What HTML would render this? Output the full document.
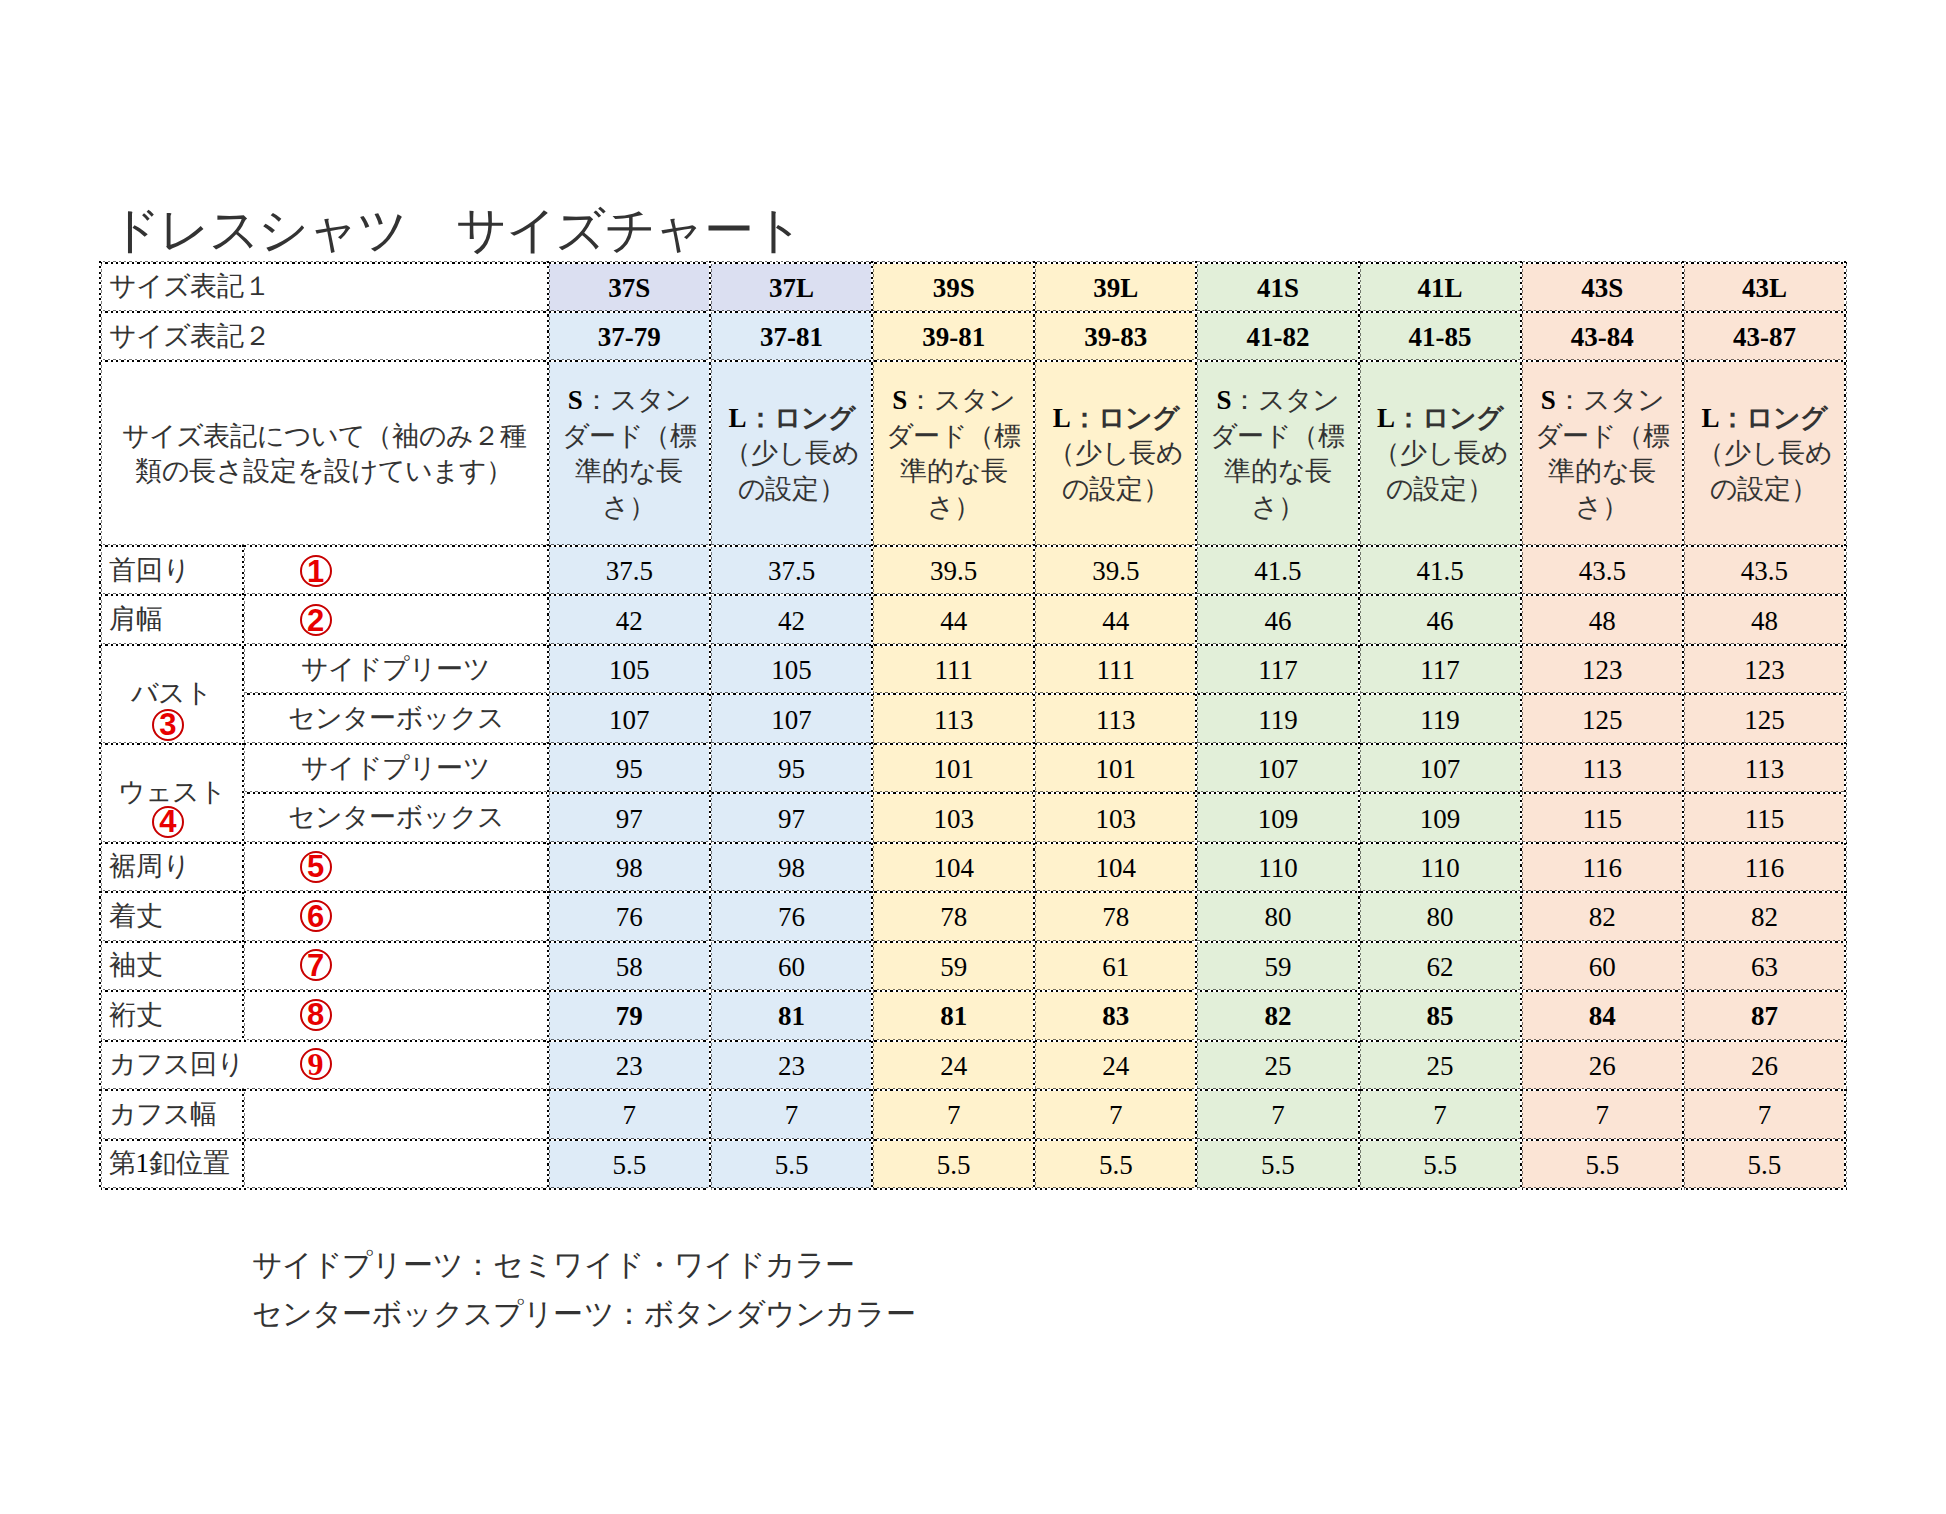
<!DOCTYPE html>
<html lang="ja"><head><meta charset="utf-8"><title>ドレスシャツ サイズチャート</title>
<style>
html,body{margin:0;padding:0;background:#fff;}
body{width:1946px;height:1514px;position:relative;overflow:hidden;font-family:"Liberation Serif",serif;color:#000;font-size:27px;}
.a{position:absolute;box-sizing:border-box;}
.c{display:flex;align-items:center;white-space:nowrap;line-height:1;}
.ml{text-align:center;line-height:35.5px;position:relative;top:1px;}
b{font-weight:bold;}
i{font-style:normal;display:inline-block;width:1em;text-align:center;color:#333;}
.h{background:repeating-linear-gradient(90deg,#000 0 2.3px,#fff 2.3px 5.34px);}
.hg{background:repeating-linear-gradient(90deg,transparent 0 2.67px,rgba(0,0,0,.55) 2.67px 5.0px,transparent 5.0px 5.34px);}
.v{background:repeating-linear-gradient(180deg,#000 0 2.1px,#fff 2.1px 5.34px);}
.vg{background:repeating-linear-gradient(180deg,transparent 0 2.67px,rgba(0,0,0,.5) 2.67px 5.34px);}
.n{position:relative;top:1.5px;}
.circ{border:2.3px solid #c80000;border-radius:50%;color:#e80000;font-family:"Liberation Sans",sans-serif;font-weight:bold;font-size:31px;display:flex;align-items:center;justify-content:center;line-height:1;}
.title{position:absolute;left:109.5px;top:206px;font-size:49.5px;line-height:1;white-space:nowrap;}
.note{position:absolute;left:251.5px;font-size:30.2px;line-height:1;white-space:nowrap;}
</style></head><body>
<div class="title"><i>ド</i><i>レ</i><i>ス</i><i>シ</i><i>ャ</i><i>ツ</i><i>&#12288;</i><i>サ</i><i>イ</i><i>ズ</i><i>チ</i><i>ャ</i><i>ー</i><i>ト</i></div>
<div class="a" style="left:548.30px;top:262.00px;width:162.15px;height:49.40px;background:#dbdff1"></div>
<div class="a" style="left:548.30px;top:311.40px;width:162.15px;height:877.10px;background:#deebf7"></div>
<div class="a" style="left:710.45px;top:262.00px;width:162.15px;height:49.40px;background:#dbdff1"></div>
<div class="a" style="left:710.45px;top:311.40px;width:162.15px;height:877.10px;background:#deebf7"></div>
<div class="a" style="left:872.60px;top:262.00px;width:162.15px;height:49.40px;background:#fff2cc"></div>
<div class="a" style="left:872.60px;top:311.40px;width:162.15px;height:877.10px;background:#fff2cc"></div>
<div class="a" style="left:1034.75px;top:262.00px;width:162.15px;height:49.40px;background:#fff2cc"></div>
<div class="a" style="left:1034.75px;top:311.40px;width:162.15px;height:877.10px;background:#fff2cc"></div>
<div class="a" style="left:1196.90px;top:262.00px;width:162.15px;height:49.40px;background:#e2efd9"></div>
<div class="a" style="left:1196.90px;top:311.40px;width:162.15px;height:877.10px;background:#e2efd9"></div>
<div class="a" style="left:1359.05px;top:262.00px;width:162.15px;height:49.40px;background:#e2efd9"></div>
<div class="a" style="left:1359.05px;top:311.40px;width:162.15px;height:877.10px;background:#e2efd9"></div>
<div class="a" style="left:1521.20px;top:262.00px;width:162.15px;height:49.40px;background:#fbe4d5"></div>
<div class="a" style="left:1521.20px;top:311.40px;width:162.15px;height:877.10px;background:#fbe4d5"></div>
<div class="a" style="left:1683.35px;top:262.00px;width:162.15px;height:49.40px;background:#fbe4d5"></div>
<div class="a" style="left:1683.35px;top:311.40px;width:162.15px;height:877.10px;background:#fbe4d5"></div>
<div class="a h" style="left:99.50px;top:262.00px;width:1747.00px;height:2.00px;"></div>
<div class="a hg" style="left:99.50px;top:261.00px;width:1747.00px;height:1.00px;"></div>
<div class="a h" style="left:99.50px;top:311.00px;width:1747.00px;height:2.00px;"></div>
<div class="a hg" style="left:99.50px;top:310.00px;width:1747.00px;height:1.00px;"></div>
<div class="a h" style="left:99.50px;top:360.00px;width:1747.00px;height:2.00px;"></div>
<div class="a hg" style="left:99.50px;top:359.00px;width:1747.00px;height:1.00px;"></div>
<div class="a h" style="left:99.50px;top:545.00px;width:1747.00px;height:2.00px;"></div>
<div class="a hg" style="left:99.50px;top:544.00px;width:1747.00px;height:1.00px;"></div>
<div class="a h" style="left:99.50px;top:594.00px;width:1747.00px;height:2.00px;"></div>
<div class="a hg" style="left:99.50px;top:593.00px;width:1747.00px;height:1.00px;"></div>
<div class="a h" style="left:99.50px;top:644.00px;width:1747.00px;height:2.00px;"></div>
<div class="a hg" style="left:99.50px;top:643.00px;width:1747.00px;height:1.00px;"></div>
<div class="a h" style="left:242.30px;top:693.00px;width:1604.20px;height:2.00px;"></div>
<div class="a hg" style="left:242.30px;top:692.00px;width:1604.20px;height:1.00px;"></div>
<div class="a h" style="left:99.50px;top:743.00px;width:1747.00px;height:2.00px;"></div>
<div class="a hg" style="left:99.50px;top:742.00px;width:1747.00px;height:1.00px;"></div>
<div class="a h" style="left:242.30px;top:792.00px;width:1604.20px;height:2.00px;"></div>
<div class="a hg" style="left:242.30px;top:791.00px;width:1604.20px;height:1.00px;"></div>
<div class="a h" style="left:99.50px;top:842.00px;width:1747.00px;height:2.00px;"></div>
<div class="a hg" style="left:99.50px;top:841.00px;width:1747.00px;height:1.00px;"></div>
<div class="a h" style="left:99.50px;top:891.00px;width:1747.00px;height:2.00px;"></div>
<div class="a hg" style="left:99.50px;top:890.00px;width:1747.00px;height:1.00px;"></div>
<div class="a h" style="left:99.50px;top:941.00px;width:1747.00px;height:2.00px;"></div>
<div class="a hg" style="left:99.50px;top:940.00px;width:1747.00px;height:1.00px;"></div>
<div class="a h" style="left:99.50px;top:990.00px;width:1747.00px;height:2.00px;"></div>
<div class="a hg" style="left:99.50px;top:989.00px;width:1747.00px;height:1.00px;"></div>
<div class="a h" style="left:99.50px;top:1040.00px;width:1747.00px;height:2.00px;"></div>
<div class="a hg" style="left:99.50px;top:1039.00px;width:1747.00px;height:1.00px;"></div>
<div class="a h" style="left:99.50px;top:1089.00px;width:1747.00px;height:2.00px;"></div>
<div class="a hg" style="left:99.50px;top:1088.00px;width:1747.00px;height:1.00px;"></div>
<div class="a h" style="left:99.50px;top:1139.00px;width:1747.00px;height:2.00px;"></div>
<div class="a hg" style="left:99.50px;top:1138.00px;width:1747.00px;height:1.00px;"></div>
<div class="a h" style="left:99.50px;top:1188.00px;width:1747.00px;height:2.00px;"></div>
<div class="a hg" style="left:99.50px;top:1187.00px;width:1747.00px;height:1.00px;"></div>
<div class="a v" style="left:99.00px;top:261.00px;width:2.00px;height:928.50px;"></div>
<div class="a vg" style="left:101.00px;top:261.00px;width:1.00px;height:928.50px;"></div>
<div class="a v" style="left:242.00px;top:544.50px;width:2.00px;height:496.62px;"></div>
<div class="a vg" style="left:244.00px;top:544.50px;width:1.00px;height:496.62px;"></div>
<div class="a v" style="left:242.00px;top:1088.58px;width:2.00px;height:100.92px;"></div>
<div class="a vg" style="left:244.00px;top:1088.58px;width:1.00px;height:100.92px;"></div>
<div class="a v" style="left:547.00px;top:261.00px;width:2.00px;height:928.50px;"></div>
<div class="a vg" style="left:549.00px;top:261.00px;width:1.00px;height:928.50px;"></div>
<div class="a v" style="left:709.00px;top:261.00px;width:2.00px;height:928.50px;"></div>
<div class="a vg" style="left:711.00px;top:261.00px;width:1.00px;height:928.50px;"></div>
<div class="a v" style="left:871.00px;top:261.00px;width:2.00px;height:928.50px;"></div>
<div class="a vg" style="left:873.00px;top:261.00px;width:1.00px;height:928.50px;"></div>
<div class="a v" style="left:1033.00px;top:261.00px;width:2.00px;height:928.50px;"></div>
<div class="a vg" style="left:1035.00px;top:261.00px;width:1.00px;height:928.50px;"></div>
<div class="a v" style="left:1195.00px;top:261.00px;width:2.00px;height:928.50px;"></div>
<div class="a vg" style="left:1197.00px;top:261.00px;width:1.00px;height:928.50px;"></div>
<div class="a v" style="left:1358.00px;top:261.00px;width:2.00px;height:928.50px;"></div>
<div class="a vg" style="left:1360.00px;top:261.00px;width:1.00px;height:928.50px;"></div>
<div class="a v" style="left:1520.00px;top:261.00px;width:2.00px;height:928.50px;"></div>
<div class="a vg" style="left:1522.00px;top:261.00px;width:1.00px;height:928.50px;"></div>
<div class="a v" style="left:1682.00px;top:261.00px;width:2.00px;height:928.50px;"></div>
<div class="a vg" style="left:1684.00px;top:261.00px;width:1.00px;height:928.50px;"></div>
<div class="a v" style="left:1844.00px;top:261.00px;width:2.00px;height:928.50px;"></div>
<div class="a vg" style="left:1846.00px;top:261.00px;width:1.00px;height:928.50px;"></div>
<div class="a c" style="left:108.50px;top:262.00px;width:439.80px;height:49.40px;justify-content:flex-start;"><i>サ</i><i>イ</i><i>ズ</i><i>表</i><i>記</i><i>１</i></div>
<div class="a c" style="left:108.50px;top:311.40px;width:439.80px;height:49.40px;justify-content:flex-start;"><i>サ</i><i>イ</i><i>ズ</i><i>表</i><i>記</i><i>２</i></div>
<div class="a c" style="left:100.50px;top:360.80px;width:447.80px;height:184.70px;justify-content:center;"><div class="ml"><i>サ</i><i>イ</i><i>ズ</i><i>表</i><i>記</i><i>に</i><i>つ</i><i>い</i><i>て</i><i>（</i><i>袖</i><i>の</i><i>み</i><i>２</i><i>種</i><br><i>類</i><i>の</i><i>長</i><i>さ</i><i>設</i><i>定</i><i>を</i><i>設</i><i>け</i><i>て</i><i>い</i><i>ま</i><i>す</i><i>）</i></div></div>
<div class="a c" style="left:548.30px;top:262.00px;width:162.15px;height:49.40px;justify-content:center;"><b class="n">37S</b></div>
<div class="a c" style="left:548.30px;top:311.40px;width:162.15px;height:49.40px;justify-content:center;"><b class="n">37-79</b></div>
<div class="a c" style="left:548.30px;top:360.80px;width:162.15px;height:184.70px;justify-content:center;"><div class="ml"><b>S</b><i>：</i><i>ス</i><i>タ</i><i>ン</i><br><i>ダ</i><i>ー</i><i>ド</i><i>（</i><i>標</i><br><i>準</i><i>的</i><i>な</i><i>長</i><br><i>さ</i><i>）</i></div></div>
<div class="a c" style="left:710.45px;top:262.00px;width:162.15px;height:49.40px;justify-content:center;"><b class="n">37L</b></div>
<div class="a c" style="left:710.45px;top:311.40px;width:162.15px;height:49.40px;justify-content:center;"><b class="n">37-81</b></div>
<div class="a c" style="left:710.45px;top:360.80px;width:162.15px;height:184.70px;justify-content:center;"><div class="ml"><b>L<i>：</i><i>ロ</i><i>ン</i><i>グ</i></b><br><i>（</i><i>少</i><i>し</i><i>長</i><i>め</i><br><i>の</i><i>設</i><i>定</i><i>）</i></div></div>
<div class="a c" style="left:872.60px;top:262.00px;width:162.15px;height:49.40px;justify-content:center;"><b class="n">39S</b></div>
<div class="a c" style="left:872.60px;top:311.40px;width:162.15px;height:49.40px;justify-content:center;"><b class="n">39-81</b></div>
<div class="a c" style="left:872.60px;top:360.80px;width:162.15px;height:184.70px;justify-content:center;"><div class="ml"><b>S</b><i>：</i><i>ス</i><i>タ</i><i>ン</i><br><i>ダ</i><i>ー</i><i>ド</i><i>（</i><i>標</i><br><i>準</i><i>的</i><i>な</i><i>長</i><br><i>さ</i><i>）</i></div></div>
<div class="a c" style="left:1034.75px;top:262.00px;width:162.15px;height:49.40px;justify-content:center;"><b class="n">39L</b></div>
<div class="a c" style="left:1034.75px;top:311.40px;width:162.15px;height:49.40px;justify-content:center;"><b class="n">39-83</b></div>
<div class="a c" style="left:1034.75px;top:360.80px;width:162.15px;height:184.70px;justify-content:center;"><div class="ml"><b>L<i>：</i><i>ロ</i><i>ン</i><i>グ</i></b><br><i>（</i><i>少</i><i>し</i><i>長</i><i>め</i><br><i>の</i><i>設</i><i>定</i><i>）</i></div></div>
<div class="a c" style="left:1196.90px;top:262.00px;width:162.15px;height:49.40px;justify-content:center;"><b class="n">41S</b></div>
<div class="a c" style="left:1196.90px;top:311.40px;width:162.15px;height:49.40px;justify-content:center;"><b class="n">41-82</b></div>
<div class="a c" style="left:1196.90px;top:360.80px;width:162.15px;height:184.70px;justify-content:center;"><div class="ml"><b>S</b><i>：</i><i>ス</i><i>タ</i><i>ン</i><br><i>ダ</i><i>ー</i><i>ド</i><i>（</i><i>標</i><br><i>準</i><i>的</i><i>な</i><i>長</i><br><i>さ</i><i>）</i></div></div>
<div class="a c" style="left:1359.05px;top:262.00px;width:162.15px;height:49.40px;justify-content:center;"><b class="n">41L</b></div>
<div class="a c" style="left:1359.05px;top:311.40px;width:162.15px;height:49.40px;justify-content:center;"><b class="n">41-85</b></div>
<div class="a c" style="left:1359.05px;top:360.80px;width:162.15px;height:184.70px;justify-content:center;"><div class="ml"><b>L<i>：</i><i>ロ</i><i>ン</i><i>グ</i></b><br><i>（</i><i>少</i><i>し</i><i>長</i><i>め</i><br><i>の</i><i>設</i><i>定</i><i>）</i></div></div>
<div class="a c" style="left:1521.20px;top:262.00px;width:162.15px;height:49.40px;justify-content:center;"><b class="n">43S</b></div>
<div class="a c" style="left:1521.20px;top:311.40px;width:162.15px;height:49.40px;justify-content:center;"><b class="n">43-84</b></div>
<div class="a c" style="left:1521.20px;top:360.80px;width:162.15px;height:184.70px;justify-content:center;"><div class="ml"><b>S</b><i>：</i><i>ス</i><i>タ</i><i>ン</i><br><i>ダ</i><i>ー</i><i>ド</i><i>（</i><i>標</i><br><i>準</i><i>的</i><i>な</i><i>長</i><br><i>さ</i><i>）</i></div></div>
<div class="a c" style="left:1683.35px;top:262.00px;width:162.15px;height:49.40px;justify-content:center;"><b class="n">43L</b></div>
<div class="a c" style="left:1683.35px;top:311.40px;width:162.15px;height:49.40px;justify-content:center;"><b class="n">43-87</b></div>
<div class="a c" style="left:1683.35px;top:360.80px;width:162.15px;height:184.70px;justify-content:center;"><div class="ml"><b>L<i>：</i><i>ロ</i><i>ン</i><i>グ</i></b><br><i>（</i><i>少</i><i>し</i><i>長</i><i>め</i><br><i>の</i><i>設</i><i>定</i><i>）</i></div></div>
<div class="a c" style="left:108.50px;top:545.50px;width:334.80px;height:49.46px;justify-content:flex-start;"><i>首</i><i>回</i><i>り</i></div>
<div class="a circ" style="left:299.60px;top:555.00px;width:32.00px;height:32.00px;">1</div>
<div class="a c" style="left:108.50px;top:594.96px;width:334.80px;height:49.46px;justify-content:flex-start;"><i>肩</i><i>幅</i></div>
<div class="a circ" style="left:299.60px;top:604.30px;width:32.00px;height:32.00px;">2</div>
<div class="a c" style="left:108.50px;top:842.27px;width:334.80px;height:49.46px;justify-content:flex-start;"><i>裾</i><i>周</i><i>り</i></div>
<div class="a circ" style="left:299.60px;top:850.80px;width:32.00px;height:32.00px;">5</div>
<div class="a c" style="left:108.50px;top:891.73px;width:334.80px;height:49.46px;justify-content:flex-start;"><i>着</i><i>丈</i></div>
<div class="a circ" style="left:299.60px;top:900.10px;width:32.00px;height:32.00px;">6</div>
<div class="a c" style="left:108.50px;top:941.19px;width:334.80px;height:49.46px;justify-content:flex-start;"><i>袖</i><i>丈</i></div>
<div class="a circ" style="left:299.60px;top:949.40px;width:32.00px;height:32.00px;">7</div>
<div class="a c" style="left:108.50px;top:990.65px;width:334.80px;height:49.46px;justify-content:flex-start;"><i>裄</i><i>丈</i></div>
<div class="a circ" style="left:299.60px;top:998.70px;width:32.00px;height:32.00px;">8</div>
<div class="a c" style="left:108.50px;top:1040.12px;width:334.80px;height:49.46px;justify-content:flex-start;"><i>カ</i><i>フ</i><i>ス</i><i>回</i><i>り</i></div>
<div class="a circ" style="left:299.60px;top:1048.00px;width:32.00px;height:32.00px;font-family:'Liberation Serif',serif;font-size:32px;">9</div>
<div class="a c" style="left:108.50px;top:1089.58px;width:334.80px;height:49.46px;justify-content:flex-start;"><i>カ</i><i>フ</i><i>ス</i><i>幅</i></div>
<div class="a c" style="left:108.50px;top:1139.04px;width:334.80px;height:49.46px;justify-content:flex-start;"><i>第</i>1<i>釦</i><i>位</i><i>置</i></div>
<div class="a c" style="left:100.50px;top:644.42px;width:142.80px;height:98.92px;justify-content:center;"><i>バ</i><i>ス</i><i>ト</i></div>
<div class="a circ" style="left:151.90px;top:708.88px;width:32.00px;height:32.00px;">3</div>
<div class="a c" style="left:243.30px;top:644.42px;width:305.00px;height:49.46px;justify-content:center;"><i>サ</i><i>イ</i><i>ド</i><i>プ</i><i>リ</i><i>ー</i><i>ツ</i></div>
<div class="a c" style="left:243.30px;top:693.88px;width:305.00px;height:49.46px;justify-content:center;"><i>セ</i><i>ン</i><i>タ</i><i>ー</i><i>ボ</i><i>ッ</i><i>ク</i><i>ス</i></div>
<div class="a c" style="left:100.50px;top:743.35px;width:142.80px;height:98.92px;justify-content:center;"><i>ウ</i><i>ェ</i><i>ス</i><i>ト</i></div>
<div class="a circ" style="left:151.90px;top:805.81px;width:32.00px;height:32.00px;">4</div>
<div class="a c" style="left:243.30px;top:743.35px;width:305.00px;height:49.46px;justify-content:center;"><i>サ</i><i>イ</i><i>ド</i><i>プ</i><i>リ</i><i>ー</i><i>ツ</i></div>
<div class="a c" style="left:243.30px;top:792.81px;width:305.00px;height:49.46px;justify-content:center;"><i>セ</i><i>ン</i><i>タ</i><i>ー</i><i>ボ</i><i>ッ</i><i>ク</i><i>ス</i></div>
<div class="a c" style="left:548.30px;top:545.50px;width:162.15px;height:49.46px;justify-content:center;"><span class="n">37.5</span></div>
<div class="a c" style="left:710.45px;top:545.50px;width:162.15px;height:49.46px;justify-content:center;"><span class="n">37.5</span></div>
<div class="a c" style="left:872.60px;top:545.50px;width:162.15px;height:49.46px;justify-content:center;"><span class="n">39.5</span></div>
<div class="a c" style="left:1034.75px;top:545.50px;width:162.15px;height:49.46px;justify-content:center;"><span class="n">39.5</span></div>
<div class="a c" style="left:1196.90px;top:545.50px;width:162.15px;height:49.46px;justify-content:center;"><span class="n">41.5</span></div>
<div class="a c" style="left:1359.05px;top:545.50px;width:162.15px;height:49.46px;justify-content:center;"><span class="n">41.5</span></div>
<div class="a c" style="left:1521.20px;top:545.50px;width:162.15px;height:49.46px;justify-content:center;"><span class="n">43.5</span></div>
<div class="a c" style="left:1683.35px;top:545.50px;width:162.15px;height:49.46px;justify-content:center;"><span class="n">43.5</span></div>
<div class="a c" style="left:548.30px;top:594.96px;width:162.15px;height:49.46px;justify-content:center;"><span class="n">42</span></div>
<div class="a c" style="left:710.45px;top:594.96px;width:162.15px;height:49.46px;justify-content:center;"><span class="n">42</span></div>
<div class="a c" style="left:872.60px;top:594.96px;width:162.15px;height:49.46px;justify-content:center;"><span class="n">44</span></div>
<div class="a c" style="left:1034.75px;top:594.96px;width:162.15px;height:49.46px;justify-content:center;"><span class="n">44</span></div>
<div class="a c" style="left:1196.90px;top:594.96px;width:162.15px;height:49.46px;justify-content:center;"><span class="n">46</span></div>
<div class="a c" style="left:1359.05px;top:594.96px;width:162.15px;height:49.46px;justify-content:center;"><span class="n">46</span></div>
<div class="a c" style="left:1521.20px;top:594.96px;width:162.15px;height:49.46px;justify-content:center;"><span class="n">48</span></div>
<div class="a c" style="left:1683.35px;top:594.96px;width:162.15px;height:49.46px;justify-content:center;"><span class="n">48</span></div>
<div class="a c" style="left:548.30px;top:644.42px;width:162.15px;height:49.46px;justify-content:center;"><span class="n">105</span></div>
<div class="a c" style="left:710.45px;top:644.42px;width:162.15px;height:49.46px;justify-content:center;"><span class="n">105</span></div>
<div class="a c" style="left:872.60px;top:644.42px;width:162.15px;height:49.46px;justify-content:center;"><span class="n">111</span></div>
<div class="a c" style="left:1034.75px;top:644.42px;width:162.15px;height:49.46px;justify-content:center;"><span class="n">111</span></div>
<div class="a c" style="left:1196.90px;top:644.42px;width:162.15px;height:49.46px;justify-content:center;"><span class="n">117</span></div>
<div class="a c" style="left:1359.05px;top:644.42px;width:162.15px;height:49.46px;justify-content:center;"><span class="n">117</span></div>
<div class="a c" style="left:1521.20px;top:644.42px;width:162.15px;height:49.46px;justify-content:center;"><span class="n">123</span></div>
<div class="a c" style="left:1683.35px;top:644.42px;width:162.15px;height:49.46px;justify-content:center;"><span class="n">123</span></div>
<div class="a c" style="left:548.30px;top:693.88px;width:162.15px;height:49.46px;justify-content:center;"><span class="n">107</span></div>
<div class="a c" style="left:710.45px;top:693.88px;width:162.15px;height:49.46px;justify-content:center;"><span class="n">107</span></div>
<div class="a c" style="left:872.60px;top:693.88px;width:162.15px;height:49.46px;justify-content:center;"><span class="n">113</span></div>
<div class="a c" style="left:1034.75px;top:693.88px;width:162.15px;height:49.46px;justify-content:center;"><span class="n">113</span></div>
<div class="a c" style="left:1196.90px;top:693.88px;width:162.15px;height:49.46px;justify-content:center;"><span class="n">119</span></div>
<div class="a c" style="left:1359.05px;top:693.88px;width:162.15px;height:49.46px;justify-content:center;"><span class="n">119</span></div>
<div class="a c" style="left:1521.20px;top:693.88px;width:162.15px;height:49.46px;justify-content:center;"><span class="n">125</span></div>
<div class="a c" style="left:1683.35px;top:693.88px;width:162.15px;height:49.46px;justify-content:center;"><span class="n">125</span></div>
<div class="a c" style="left:548.30px;top:743.35px;width:162.15px;height:49.46px;justify-content:center;"><span class="n">95</span></div>
<div class="a c" style="left:710.45px;top:743.35px;width:162.15px;height:49.46px;justify-content:center;"><span class="n">95</span></div>
<div class="a c" style="left:872.60px;top:743.35px;width:162.15px;height:49.46px;justify-content:center;"><span class="n">101</span></div>
<div class="a c" style="left:1034.75px;top:743.35px;width:162.15px;height:49.46px;justify-content:center;"><span class="n">101</span></div>
<div class="a c" style="left:1196.90px;top:743.35px;width:162.15px;height:49.46px;justify-content:center;"><span class="n">107</span></div>
<div class="a c" style="left:1359.05px;top:743.35px;width:162.15px;height:49.46px;justify-content:center;"><span class="n">107</span></div>
<div class="a c" style="left:1521.20px;top:743.35px;width:162.15px;height:49.46px;justify-content:center;"><span class="n">113</span></div>
<div class="a c" style="left:1683.35px;top:743.35px;width:162.15px;height:49.46px;justify-content:center;"><span class="n">113</span></div>
<div class="a c" style="left:548.30px;top:792.81px;width:162.15px;height:49.46px;justify-content:center;"><span class="n">97</span></div>
<div class="a c" style="left:710.45px;top:792.81px;width:162.15px;height:49.46px;justify-content:center;"><span class="n">97</span></div>
<div class="a c" style="left:872.60px;top:792.81px;width:162.15px;height:49.46px;justify-content:center;"><span class="n">103</span></div>
<div class="a c" style="left:1034.75px;top:792.81px;width:162.15px;height:49.46px;justify-content:center;"><span class="n">103</span></div>
<div class="a c" style="left:1196.90px;top:792.81px;width:162.15px;height:49.46px;justify-content:center;"><span class="n">109</span></div>
<div class="a c" style="left:1359.05px;top:792.81px;width:162.15px;height:49.46px;justify-content:center;"><span class="n">109</span></div>
<div class="a c" style="left:1521.20px;top:792.81px;width:162.15px;height:49.46px;justify-content:center;"><span class="n">115</span></div>
<div class="a c" style="left:1683.35px;top:792.81px;width:162.15px;height:49.46px;justify-content:center;"><span class="n">115</span></div>
<div class="a c" style="left:548.30px;top:842.27px;width:162.15px;height:49.46px;justify-content:center;"><span class="n">98</span></div>
<div class="a c" style="left:710.45px;top:842.27px;width:162.15px;height:49.46px;justify-content:center;"><span class="n">98</span></div>
<div class="a c" style="left:872.60px;top:842.27px;width:162.15px;height:49.46px;justify-content:center;"><span class="n">104</span></div>
<div class="a c" style="left:1034.75px;top:842.27px;width:162.15px;height:49.46px;justify-content:center;"><span class="n">104</span></div>
<div class="a c" style="left:1196.90px;top:842.27px;width:162.15px;height:49.46px;justify-content:center;"><span class="n">110</span></div>
<div class="a c" style="left:1359.05px;top:842.27px;width:162.15px;height:49.46px;justify-content:center;"><span class="n">110</span></div>
<div class="a c" style="left:1521.20px;top:842.27px;width:162.15px;height:49.46px;justify-content:center;"><span class="n">116</span></div>
<div class="a c" style="left:1683.35px;top:842.27px;width:162.15px;height:49.46px;justify-content:center;"><span class="n">116</span></div>
<div class="a c" style="left:548.30px;top:891.73px;width:162.15px;height:49.46px;justify-content:center;"><span class="n">76</span></div>
<div class="a c" style="left:710.45px;top:891.73px;width:162.15px;height:49.46px;justify-content:center;"><span class="n">76</span></div>
<div class="a c" style="left:872.60px;top:891.73px;width:162.15px;height:49.46px;justify-content:center;"><span class="n">78</span></div>
<div class="a c" style="left:1034.75px;top:891.73px;width:162.15px;height:49.46px;justify-content:center;"><span class="n">78</span></div>
<div class="a c" style="left:1196.90px;top:891.73px;width:162.15px;height:49.46px;justify-content:center;"><span class="n">80</span></div>
<div class="a c" style="left:1359.05px;top:891.73px;width:162.15px;height:49.46px;justify-content:center;"><span class="n">80</span></div>
<div class="a c" style="left:1521.20px;top:891.73px;width:162.15px;height:49.46px;justify-content:center;"><span class="n">82</span></div>
<div class="a c" style="left:1683.35px;top:891.73px;width:162.15px;height:49.46px;justify-content:center;"><span class="n">82</span></div>
<div class="a c" style="left:548.30px;top:941.19px;width:162.15px;height:49.46px;justify-content:center;"><span class="n">58</span></div>
<div class="a c" style="left:710.45px;top:941.19px;width:162.15px;height:49.46px;justify-content:center;"><span class="n">60</span></div>
<div class="a c" style="left:872.60px;top:941.19px;width:162.15px;height:49.46px;justify-content:center;"><span class="n">59</span></div>
<div class="a c" style="left:1034.75px;top:941.19px;width:162.15px;height:49.46px;justify-content:center;"><span class="n">61</span></div>
<div class="a c" style="left:1196.90px;top:941.19px;width:162.15px;height:49.46px;justify-content:center;"><span class="n">59</span></div>
<div class="a c" style="left:1359.05px;top:941.19px;width:162.15px;height:49.46px;justify-content:center;"><span class="n">62</span></div>
<div class="a c" style="left:1521.20px;top:941.19px;width:162.15px;height:49.46px;justify-content:center;"><span class="n">60</span></div>
<div class="a c" style="left:1683.35px;top:941.19px;width:162.15px;height:49.46px;justify-content:center;"><span class="n">63</span></div>
<div class="a c" style="left:548.30px;top:990.65px;width:162.15px;height:49.46px;justify-content:center;"><b class="n">79</b></div>
<div class="a c" style="left:710.45px;top:990.65px;width:162.15px;height:49.46px;justify-content:center;"><b class="n">81</b></div>
<div class="a c" style="left:872.60px;top:990.65px;width:162.15px;height:49.46px;justify-content:center;"><b class="n">81</b></div>
<div class="a c" style="left:1034.75px;top:990.65px;width:162.15px;height:49.46px;justify-content:center;"><b class="n">83</b></div>
<div class="a c" style="left:1196.90px;top:990.65px;width:162.15px;height:49.46px;justify-content:center;"><b class="n">82</b></div>
<div class="a c" style="left:1359.05px;top:990.65px;width:162.15px;height:49.46px;justify-content:center;"><b class="n">85</b></div>
<div class="a c" style="left:1521.20px;top:990.65px;width:162.15px;height:49.46px;justify-content:center;"><b class="n">84</b></div>
<div class="a c" style="left:1683.35px;top:990.65px;width:162.15px;height:49.46px;justify-content:center;"><b class="n">87</b></div>
<div class="a c" style="left:548.30px;top:1040.12px;width:162.15px;height:49.46px;justify-content:center;"><span class="n">23</span></div>
<div class="a c" style="left:710.45px;top:1040.12px;width:162.15px;height:49.46px;justify-content:center;"><span class="n">23</span></div>
<div class="a c" style="left:872.60px;top:1040.12px;width:162.15px;height:49.46px;justify-content:center;"><span class="n">24</span></div>
<div class="a c" style="left:1034.75px;top:1040.12px;width:162.15px;height:49.46px;justify-content:center;"><span class="n">24</span></div>
<div class="a c" style="left:1196.90px;top:1040.12px;width:162.15px;height:49.46px;justify-content:center;"><span class="n">25</span></div>
<div class="a c" style="left:1359.05px;top:1040.12px;width:162.15px;height:49.46px;justify-content:center;"><span class="n">25</span></div>
<div class="a c" style="left:1521.20px;top:1040.12px;width:162.15px;height:49.46px;justify-content:center;"><span class="n">26</span></div>
<div class="a c" style="left:1683.35px;top:1040.12px;width:162.15px;height:49.46px;justify-content:center;"><span class="n">26</span></div>
<div class="a c" style="left:548.30px;top:1089.58px;width:162.15px;height:49.46px;justify-content:center;"><span class="n">7</span></div>
<div class="a c" style="left:710.45px;top:1089.58px;width:162.15px;height:49.46px;justify-content:center;"><span class="n">7</span></div>
<div class="a c" style="left:872.60px;top:1089.58px;width:162.15px;height:49.46px;justify-content:center;"><span class="n">7</span></div>
<div class="a c" style="left:1034.75px;top:1089.58px;width:162.15px;height:49.46px;justify-content:center;"><span class="n">7</span></div>
<div class="a c" style="left:1196.90px;top:1089.58px;width:162.15px;height:49.46px;justify-content:center;"><span class="n">7</span></div>
<div class="a c" style="left:1359.05px;top:1089.58px;width:162.15px;height:49.46px;justify-content:center;"><span class="n">7</span></div>
<div class="a c" style="left:1521.20px;top:1089.58px;width:162.15px;height:49.46px;justify-content:center;"><span class="n">7</span></div>
<div class="a c" style="left:1683.35px;top:1089.58px;width:162.15px;height:49.46px;justify-content:center;"><span class="n">7</span></div>
<div class="a c" style="left:548.30px;top:1139.04px;width:162.15px;height:49.46px;justify-content:center;"><span class="n">5.5</span></div>
<div class="a c" style="left:710.45px;top:1139.04px;width:162.15px;height:49.46px;justify-content:center;"><span class="n">5.5</span></div>
<div class="a c" style="left:872.60px;top:1139.04px;width:162.15px;height:49.46px;justify-content:center;"><span class="n">5.5</span></div>
<div class="a c" style="left:1034.75px;top:1139.04px;width:162.15px;height:49.46px;justify-content:center;"><span class="n">5.5</span></div>
<div class="a c" style="left:1196.90px;top:1139.04px;width:162.15px;height:49.46px;justify-content:center;"><span class="n">5.5</span></div>
<div class="a c" style="left:1359.05px;top:1139.04px;width:162.15px;height:49.46px;justify-content:center;"><span class="n">5.5</span></div>
<div class="a c" style="left:1521.20px;top:1139.04px;width:162.15px;height:49.46px;justify-content:center;"><span class="n">5.5</span></div>
<div class="a c" style="left:1683.35px;top:1139.04px;width:162.15px;height:49.46px;justify-content:center;"><span class="n">5.5</span></div>
<div class="note" style="top:1250px"><i>サ</i><i>イ</i><i>ド</i><i>プ</i><i>リ</i><i>ー</i><i>ツ</i><i>：</i><i>セ</i><i>ミ</i><i>ワ</i><i>イ</i><i>ド</i><i>・</i><i>ワ</i><i>イ</i><i>ド</i><i>カ</i><i>ラ</i><i>ー</i></div>
<div class="note" style="top:1299px"><i>セ</i><i>ン</i><i>タ</i><i>ー</i><i>ボ</i><i>ッ</i><i>ク</i><i>ス</i><i>プ</i><i>リ</i><i>ー</i><i>ツ</i><i>：</i><i>ボ</i><i>タ</i><i>ン</i><i>ダ</i><i>ウ</i><i>ン</i><i>カ</i><i>ラ</i><i>ー</i></div>
</body></html>
